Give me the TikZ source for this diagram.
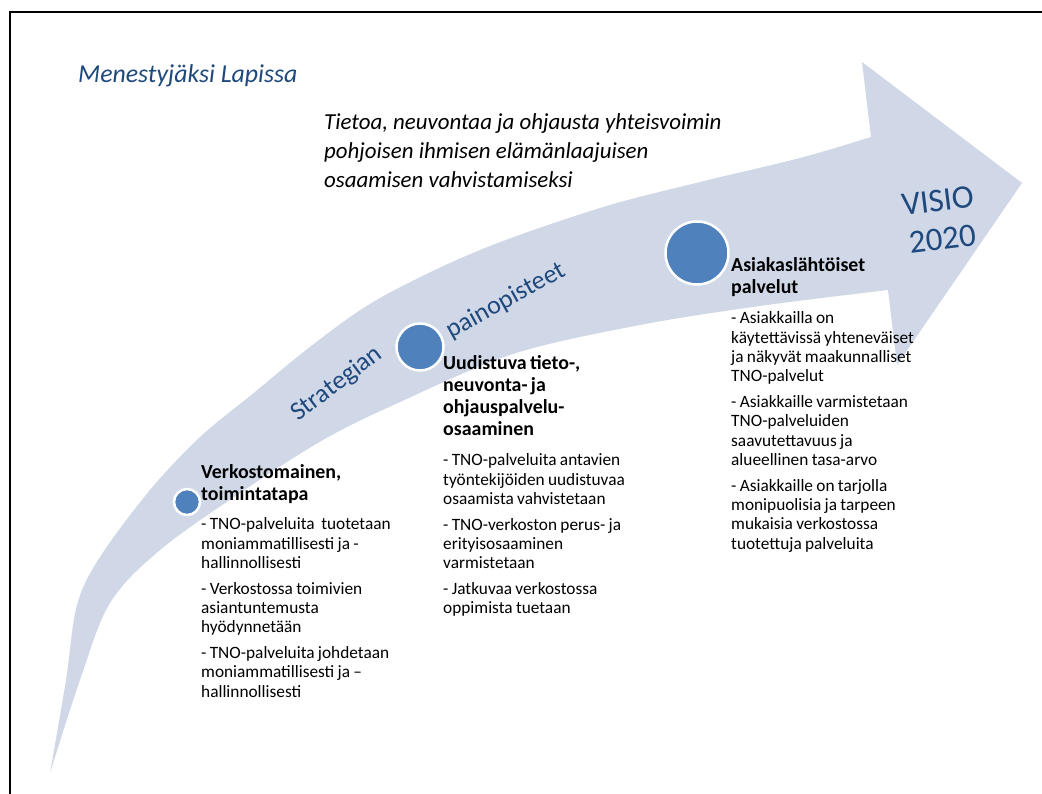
\documentclass[tikz,border=0pt]{standalone}
\usepackage{fontspec}
\setmainfont{Carlito}
\definecolor{arrowfill}{RGB}{208,216,232}
\definecolor{dotblue}{RGB}{79,129,189}
\definecolor{titleblue}{RGB}{31,73,125}
\newcommand{\headfnt}{\bfseries\fontsize{19.9}{22}\selectfont}
\newcommand{\bodyfnt}{\mdseries\fontsize{17.3}{19.35}\selectfont}
\newcommand{\pgap}{\par\vspace{6.3pt}}
\newcommand{\hgap}{\par\vspace{10.5pt}}
\begin{document}
\begin{tikzpicture}[x=1pt,y=-1pt,
  block/.style={text width=300pt, align=left, inner sep=0pt, anchor=base west},
  dot/.style={circle, fill=dotblue, draw=white, line width=2.5pt, inner sep=0pt},
  bluetext/.style={text=titleblue, inner sep=0pt}]
\useasboundingbox (0,0) rectangle (1042,794);
\fill[white] (0,0) rectangle (1042,794);
% curved arrow
\fill[arrowfill] plot[smooth,tension=0.55] coordinates {(50,773) (66,680) (77,605) (100,557) (150,490) (200,437) (250,396) (315,343) (380,298) (480,250) (600,208) (700,182) (800,158) (871,137)}
  -- (862,62) -- (1022,183) -- (897,365) -- (888,290)
  -- plot[smooth,tension=0.55] coordinates {(888,290) (760,306) (640,325) (513,354) (400,402) (323,440) (240,493) (160,550) (110,603) (80,680) (50,773)} -- cycle;
% frame
\draw[line width=2.5pt] (10,794) -- (10,12) -- (1042,12);
% dots
\node[dot, minimum size=26pt] (d1) at (187,502) {};
\node[dot, minimum size=47pt] (d2) at (420,347) {};
\node[dot, minimum size=63pt] (d3) at (697,253) {};
% titles
\node[bluetext, anchor=base west, font=\itshape\fontsize{25.8}{31}\selectfont] (title) at (78,83) {Menestyjäksi Lapissa};
\node[inner sep=0pt, anchor=base west, align=left, font=\itshape\fontsize{22.9}{29}\selectfont] (sub) at (324,188) {Tietoa, neuvontaa ja ohjausta yhteisvoimin\\ pohjoisen ihmisen elämänlaajuisen\\ osaamisen vahvistamiseksi};
\node[bluetext, align=center, rotate=7, font=\fontsize{33}{39}\selectfont] (visio) at (940,220) {VISIO\\ 2020};
\node[bluetext, rotate=37, font=\fontsize{26}{31}\selectfont] (strat) at (337,384) {Strategian};
\node[bluetext, rotate=29, font=\fontsize{26}{31}\selectfont] (paino) at (506,301) {painopisteet};
% blocks
\node[block] (b1) at (201,478) {\headfnt Verkostomainen,\\ toimintatapa\hgap
\bodyfnt - TNO-palveluita\ \ tuotetaan\\ moniammatillisesti ja -\\ hallinnollisesti\pgap
- Verkostossa toimivien\\ asiantuntemusta\\ hyödynnetään\pgap
- TNO-palveluita johdetaan\\ moniammatillisesti ja –\\ hallinnollisesti\par};
\node[block] (b2) at (443,370) {\headfnt Uudistuva tieto-,\\ neuvonta- ja\\ ohjauspalvelu-\\ osaaminen\hgap
\bodyfnt - TNO-palveluita antavien\\ työntekijöiden uudistuvaa\\ osaamista vahvistetaan\pgap
- TNO-verkoston perus- ja\\ erityisosaaminen\\ varmistetaan\pgap
- Jatkuvaa verkostossa\\ oppimista tuetaan\par};
\node[block] (b3) at (731,272) {\headfnt Asiakaslähtöiset\\ palvelut\hgap
\bodyfnt - Asiakkailla on\\ käytettävissä yhteneväiset\\ ja näkyvät maakunnalliset\\ TNO-palvelut\pgap
- Asiakkaille varmistetaan\\ TNO-palveluiden\\ saavutettavuus ja\\ alueellinen tasa-arvo\pgap
- Asiakkaille on tarjolla\\ monipuolisia ja tarpeen\\ mukaisia verkostossa\\ tuotettuja palveluita\par};
\end{tikzpicture}
\end{document}
